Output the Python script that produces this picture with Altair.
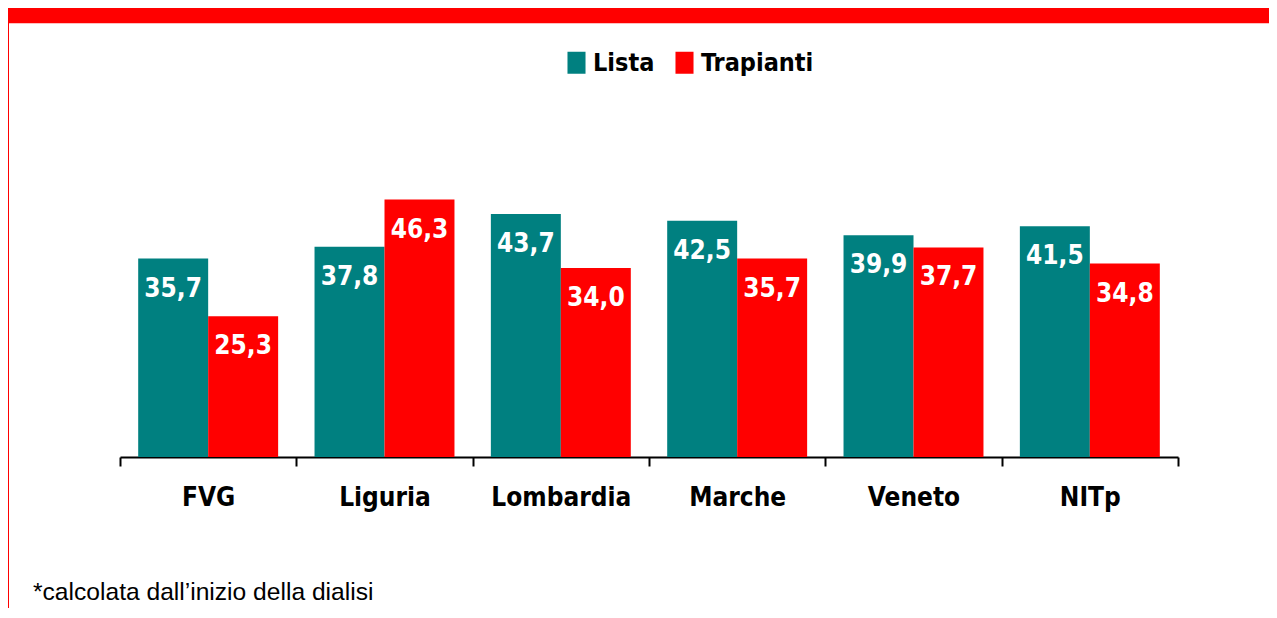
import altair as alt
import pandas as pd

regions = ["FVG", "Liguria", "Lombardia", "Marche", "Veneto", "NITp"]
lista = [35.7, 37.8, 43.7, 42.5, 39.9, 41.5]
trapianti = [25.3, 46.3, 34.0, 35.7, 37.7, 34.8]
series = ["Lista", "Trapianti"]
colors = ["#008080", "#FF0000"]
footnote = "*calcolata dall\u2019inizio della dialisi"

FONT_B = "'DejaVu Sans Condensed', 'DejaVu Sans', sans-serif"
FONT_N = "'Liberation Sans', Arial, sans-serif"

rows = []
for r, a, b in zip(regions, lista, trapianti):
    rows.append({"Regione": r, "Serie": "Lista", "Valore": a})
    rows.append({"Regione": r, "Serie": "Trapianti", "Valore": b})
df = pd.DataFrame(rows)

base = alt.Chart(df).transform_calculate(
    Etichetta="replace(format(datum.Valore, '.1f'), '.', ',')"
).encode(
    x=alt.X(
        "Regione:N",
        sort=regions,
        title=None,
        scale=alt.Scale(paddingInner=0, paddingOuter=0),
        axis=alt.Axis(
            labelAngle=0,
            labelFont=FONT_B,
            labelFontSize=26,
            labelFontWeight="bold",
            labelColor="black",
            labelBaseline="alphabetic",
            labelPadding=39,
            domainColor="black",
            domainWidth=2,
            tickColor="black",
            tickWidth=2,
            tickSize=9,
            tickBand="extent",
        ),
    ),
    xOffset=alt.XOffset("Serie:N", sort=series, scale=alt.Scale(paddingInner=0, paddingOuter=0.26)),
)

bars = base.mark_bar().encode(
    y=alt.Y("Valore:Q", scale=alt.Scale(domain=[0, 50]), axis=None),
    color=alt.Color(
        "Serie:N",
        sort=series,
        scale=alt.Scale(domain=series, range=colors),
        legend=alt.Legend(
            orient="none",
            legendX=444,
            legendY=-129,
            direction="horizontal",
            title=None,
            symbolType="M-0.82,-1H0.82V1H-0.82Z",
            symbolSize=484,
            symbolStrokeWidth=0,
            symbolOpacity=1,
            labelFont=FONT_B,
            labelFontSize=25,
            labelFontWeight="bold",
            labelColor="black",
            labelOffset=4,
            columnPadding=17,
        ),
    ),
)

labels = base.mark_text(
    color="white",
    font=FONT_B,
    fontSize=26,
    fontWeight="bold",
    align="center",
    baseline="alphabetic",
    dy=38,
).encode(y=alt.Y("Valore:Q"), text="Etichetta:N")

deco = pd.DataFrame({"t": [footnote]})
banner = alt.Chart(deco).mark_rect(color="#FF0000").encode(
    x=alt.value(-113), x2=alt.value(1160), y=alt.value(-172), y2=alt.value(-155.7)
)
leftline = alt.Chart(deco).mark_rect(color="#FF0000").encode(
    x=alt.value(-113), x2=alt.value(-111), y=alt.value(-172), y2=alt.value(440)
)
note = alt.Chart(deco).mark_text(
    font=FONT_N, fontSize=24.6, color="black", align="left", baseline="alphabetic"
).encode(x=alt.value(-87), y=alt.value(421), text="t:N")

chart = alt.layer(banner, leftline, bars, labels, note).properties(
    width=1058,
    height=278,
    padding={"left": 112, "top": 171, "right": 91, "bottom": 151},
    autosize=alt.AutoSizeParams(type="none"),
).configure(background="white").configure_view(stroke="transparent", strokeWidth=0)

chart.save("out.html", embed_options={"renderer": "svg", "actions": False})
